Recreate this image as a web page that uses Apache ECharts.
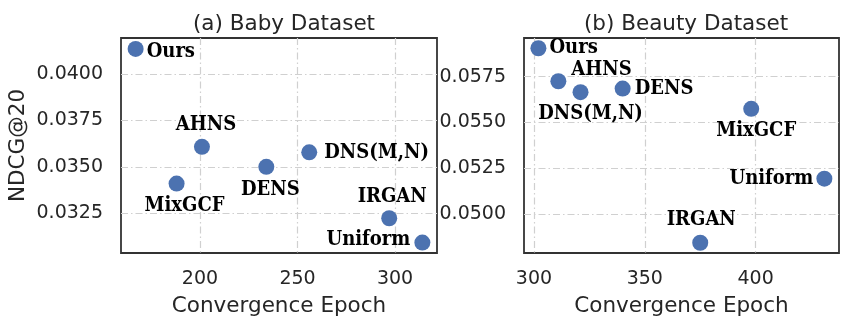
<!DOCTYPE html>
<html>
<head>
<meta charset="utf-8">
<script src="https://cdn.jsdelivr.net/npm/echarts@6/dist/echarts.min.js"></script>
<style>
  html, body { margin: 0; padding: 0; background: #fff; }
  #chart { width: 848px; height: 320px; }
</style>
</head>
<body>
<div id="chart"></div>
<script>
// methods shown in both panels
var methods = ['Ours', 'AHNS', 'MixGCF', 'DENS', 'DNS(M,N)', 'IRGAN', 'Uniform'];

// (a) Baby dataset: convergence epoch vs NDCG@20
var babyEpoch = [167, 201, 188, 234, 256, 297, 314];
var babyNdcg = [0.04135, 0.03608, 0.0341, 0.0350, 0.03578, 0.03223, 0.03092];

// (b) Beauty dataset
var beautyEpoch = [302, 311, 398, 340, 321, 375, 431];
var beautyNdcg = [0.05905, 0.05725, 0.05574, 0.05685, 0.05665, 0.04843, 0.05193];

// tick labels
var babyXTicks = [200, 250, 300];
var babyYTicks = [0.0325, 0.0350, 0.0375, 0.0400];
var beautyXTicks = [300, 350, 400];
var beautyYTicks = [0.0500, 0.0525, 0.0550, 0.0575];

var dotColor = '#4c72b0';
var textColor = '#262626';
var gridLine = { color: '#d0d0d0', width: 1.2, type: [7, 3, 1.5, 3] };

// label placement per panel (name -> [position, offset])
var babyLabelPos = {
  'Ours': ['right', [0, 3]],
  'AHNS': ['top', [4, -1]],
  'MixGCF': ['bottom', [8, 1]],
  'DENS': ['bottom', [4, 2]],
  'DNS(M,N)': ['right', [4, 0]],
  'IRGAN': ['top', [3, 0]],
  'Uniform': ['left', [-1, -3]]
};
var beautyLabelPos = {
  'Ours': ['right', [0, 0]],
  'AHNS': ['right', [2, -11]],
  'MixGCF': ['bottom', [5, 1]],
  'DENS': ['right', [1, 0]],
  'DNS(M,N)': ['bottom', [10, 1]],
  'IRGAN': ['top', [1, -2]],
  'Uniform': ['left', [0, 0]]
};

function buildPoints(xs, ys, posMap) {
  return methods.map(function(name, i) {
    var p = posMap[name];
    return {
      name: name,
      value: [xs[i], ys[i]],
      label: { position: p[0], offset: p[1] }
    };
  });
}

function xAxisCfg(gridIndex, min, max, ticks) {
  return {
    type: 'value',
    gridIndex: gridIndex,
    min: min,
    max: max,
    name: 'Convergence Epoch',
    nameLocation: 'middle',
    nameGap: 42,
    nameMoveOverlap: false,
    nameTextStyle: { fontSize: 21.5, color: textColor, fontFamily: 'DejaVu Sans' },
    axisLine: { show: false },
    axisTick: { show: false, customValues: ticks },
    axisLabel: {
      customValues: ticks,
      fontSize: 19,
      color: textColor,
      fontFamily: 'DejaVu Sans',
      margin: 17
    },
    splitLine: { show: true, lineStyle: gridLine }
  };
}

function yAxisCfg(gridIndex, min, max, ticks, name) {
  return {
    type: 'value',
    gridIndex: gridIndex,
    min: min,
    max: max,
    name: name,
    nameLocation: 'middle',
    nameGap: 92,
    nameMoveOverlap: false,
    nameTextStyle: { fontSize: 21.5, color: textColor, fontFamily: 'DejaVu Sans' },
    axisLine: { show: false },
    axisTick: { show: false, customValues: ticks },
    axisLabel: {
      customValues: ticks,
      fontSize: 19,
      color: textColor,
      fontFamily: 'DejaVu Sans',
      margin: 18,
      formatter: function(v) { return v.toFixed(4); }
    },
    splitLine: { show: true, lineStyle: gridLine }
  };
}

function scatterSeries(idx, data) {
  return {
    type: 'scatter',
    xAxisIndex: idx,
    yAxisIndex: idx,
    symbolSize: 16,
    itemStyle: { color: dotColor, opacity: 1 },
    label: {
      show: true,
      formatter: '{b}',
      distance: 3,
      color: '#000',
      fontSize: 20,
      fontWeight: 'bold',
      fontFamily: 'DejaVu Serif Condensed'
    },
    emphasis: { disabled: true },
    data: data
  };
}

var gridBase = {
  top: 38, height: 215, show: true, borderColor: '#333', borderWidth: 1.8,
  backgroundColor: 'transparent', containLabel: false, outerBoundsMode: 'none'
};

var chart = echarts.init(document.getElementById('chart'), null, { renderer: 'canvas' });
chart.setOption({
  animation: false,
  backgroundColor: '#fff',
  title: [
    {
      text: '(a) Baby Dataset', left: 279, top: 8, textAlign: 'center',
      textStyle: { fontSize: 21.5, fontWeight: 'normal', color: textColor, fontFamily: 'DejaVu Sans' }
    },
    {
      text: '(b) Beauty Dataset', left: 681, top: 8, textAlign: 'center',
      textStyle: { fontSize: 21.5, fontWeight: 'normal', color: textColor, fontFamily: 'DejaVu Sans' }
    }
  ],
  grid: [
    Object.assign({ left: 121, width: 316 }, gridBase),
    Object.assign({ left: 524, width: 315 }, gridBase)
  ],
  xAxis: [
    xAxisCfg(0, 159.5, 321.5, babyXTicks),
    xAxisCfg(1, 295.5, 437.6, beautyXTicks)
  ],
  yAxis: [
    yAxisCfg(0, 0.03036, 0.04194, babyYTicks, 'NDCG@20'),
    yAxisCfg(1, 0.04787, 0.05961, beautyYTicks, '')
  ],
  series: [
    scatterSeries(0, buildPoints(babyEpoch, babyNdcg, babyLabelPos)),
    scatterSeries(1, buildPoints(beautyEpoch, beautyNdcg, beautyLabelPos))
  ]
});
</script>
</body>
</html>
